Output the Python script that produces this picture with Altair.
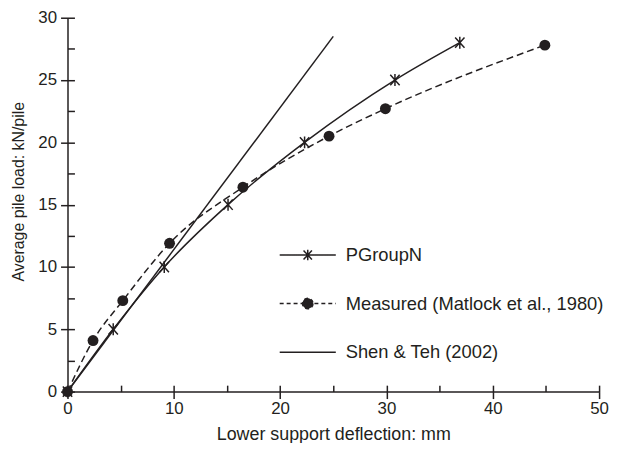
import altair as alt
import pandas as pd

# ---- data ----
pg_x = [0, 4.3, 9.1, 15.1, 22.3, 30.8, 36.9]
pg_y = [0, 5.0, 10.0, 15.0, 20.0, 25.0, 28.0]
ms_x = [0, 2.4, 5.2, 9.6, 16.5, 24.6, 29.9, 44.9]
ms_y = [0, 4.1, 7.3, 11.9, 16.4, 20.5, 22.7, 27.8]
st_x = [0, 25.0]
st_y = [0, 28.5]
series = ["PGroupN", "Measured (Matlock et al., 1980)", "Shen & Teh (2002)"]
x_major = [0, 10, 20, 30, 40, 50]
x_minor = [0, 5, 10, 15, 20, 25, 30, 35, 40, 45, 50]
y_major = [0, 5, 10, 15, 20, 25, 30]
y_minor = [0, 2.5, 5, 7.5, 10, 12.5, 15, 17.5, 20, 22.5, 25, 27.5, 30]

INK = "#231f20"
FONT = "Liberation Sans"

pg = pd.DataFrame({"x": pg_x, "y": pg_y})
ms = pd.DataFrame({"x": ms_x, "y": ms_y})
st = pd.DataFrame({"x": st_x, "y": st_y})
leg = pd.DataFrame({"series": series})

xs = alt.Scale(domain=[0, 50], nice=False, zero=False)
ys = alt.Scale(domain=[0, 30], nice=False, zero=False)

ax_x = alt.Axis(values=x_major, orient="bottom", tickSize=7, tickWidth=1.5, tickColor=INK,
                domainWidth=1.5, domainColor=INK, labelFont=FONT, labelFontSize=17,
                labelColor=INK, labelPadding=2, labelFlush=False, grid=False,
                title="Lower support deflection: mm", titleFont=FONT, titleFontSize=18,
                titleFontWeight="normal", titleColor=INK, titlePadding=9)
ax_y = alt.Axis(values=y_major, orient="left", tickSize=7, tickWidth=1.5, tickColor=INK,
                domainWidth=1.5, domainColor=INK, labelFont=FONT, labelFontSize=17,
                labelColor=INK, labelPadding=4, labelFlush=False, grid=False,
                title="Average pile load: kN/pile", titleFont=FONT, titleFontSize=16,
                titleFontWeight="normal", titleColor=INK, titlePadding=11, titleY=175)
ax_x2 = alt.Axis(values=x_minor, orient="bottom", tickSize={"expr": "-6.5"}, tickWidth=1.5,
                 tickColor=INK, domain=False, labels=False, grid=False, title=None)
ax_y2 = alt.Axis(values=y_minor, orient="left", tickSize={"expr": "-7"}, tickWidth=1.5,
                 tickColor=INK, domain=False, labels=False, grid=False, title=None)
ax_x3 = alt.Axis(values=[0], orient="bottom", ticks=False, domain=False, labels=False,
                 grid=False, title=None)
ax_y3 = alt.Axis(values=[0], orient="left", ticks=False, domain=False, labels=False,
                 grid=False, title=None)

pg_line = alt.Chart(pg).mark_line(interpolate="monotone", color=INK, strokeWidth=1.5).encode(
    x=alt.X("x:Q", scale=xs, axis=ax_x), y=alt.Y("y:Q", scale=ys, axis=ax_y))

star = "M-0.9,-1L0.9,1M-0.9,1L0.9,-1M0,-1.15V1.15"
pg_pts = alt.Chart(pg).mark_point(shape=star, size=110, filled=False, stroke=INK,
                                  strokeWidth=1.5, opacity=1).encode(
    x=alt.X("x:Q", scale=xs, axis=ax_x3), y=alt.Y("y:Q", scale=ys, axis=ax_y3))

ms_line = alt.Chart(ms).mark_line(interpolate="monotone", color=INK, strokeWidth=1.5,
                                  strokeDash=[7, 4]).encode(
    x=alt.X("x:Q", scale=xs, axis=None), y=alt.Y("y:Q", scale=ys, axis=None))
ms_pts = alt.Chart(ms).mark_circle(size=121, color=INK, opacity=1).encode(
    x=alt.X("x:Q", scale=xs, axis=None), y=alt.Y("y:Q", scale=ys, axis=None))

st_line = alt.Chart(st).mark_line(color=INK, strokeWidth=1.5).encode(
    x=alt.X("x:Q", scale=xs, axis=ax_x2), y=alt.Y("y:Q", scale=ys, axis=ax_y2))

# legend symbols: line segment with marker
sym_pg = "M-4,0H4M-0.6,-0.65L0.6,0.65M-0.6,0.65L0.6,-0.65M0,-0.75V0.75"
sym_ms = "M-4,0H4M0.75,0A0.75,0.75 0 1,1 -0.75,0A0.75,0.75 0 1,1 0.75,0Z"
sym_st = "M-4,0H4"
lg = alt.Legend(orient="none", legendX=233, legendY=230, title=None, labelFont=FONT,
                labelFontSize=18.5, labelColor=INK, symbolSize=200, symbolStrokeWidth=1.5,
                symbolOffset=0, labelOffset=29, rowPadding=30, padding=0, labelLimit=400)
legend_layer = alt.Chart(leg).mark_point(filled=False, strokeWidth=1.5, opacity=1).encode(
    shape=alt.Shape("series:N", scale=alt.Scale(domain=series, range=[sym_pg, sym_ms, sym_st]),
                    legend=lg, sort=series),
    strokeDash=alt.StrokeDash("series:N", scale=alt.Scale(domain=series,
                              range=[[1, 0], [4, 3], [1, 0]]), legend=lg, sort=series),
    fill=alt.Fill("series:N", scale=alt.Scale(domain=series,
                  range=["transparent", INK, "transparent"]), legend=lg, sort=series),
    stroke=alt.Stroke("series:N", scale=alt.Scale(domain=series,
                      range=[INK, INK, INK]), legend=lg, sort=series),
).transform_filter("false")

chart = alt.layer(pg_line, st_line, pg_pts, ms_line, ms_pts, legend_layer).resolve_axis(
    x="independent", y="independent"
).properties(
    width=536, height=377,
    padding={"left": 60, "top": 8, "right": 10, "bottom": 50},
    autosize=alt.AutoSizeParams(type="none"),
).configure_view(stroke=None)

chart.save("out.html", embed_options={"renderer": "svg", "actions": False})
